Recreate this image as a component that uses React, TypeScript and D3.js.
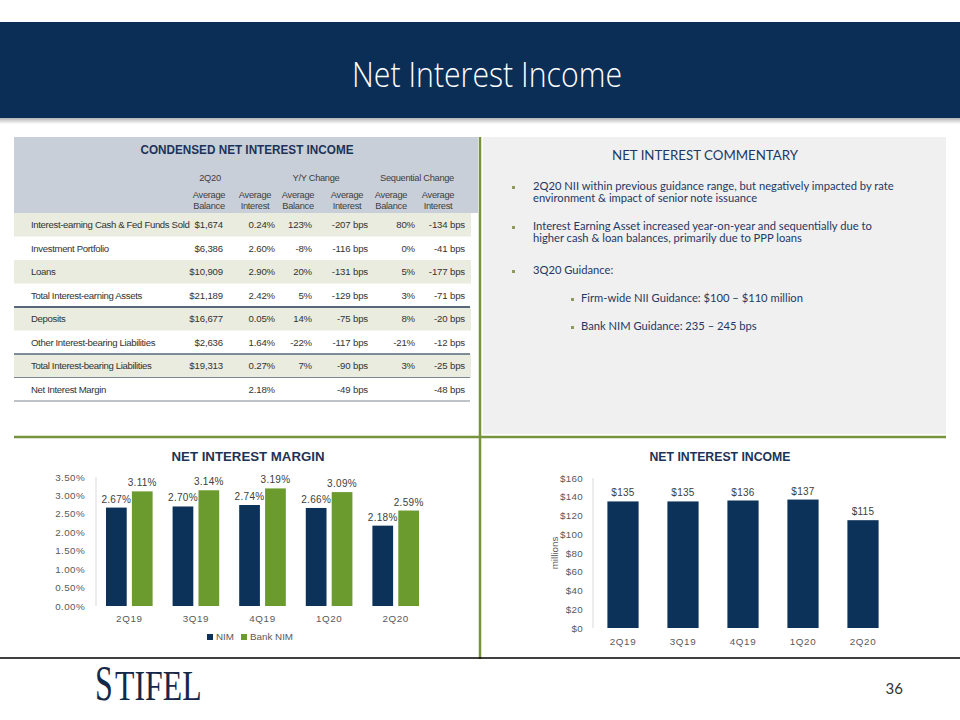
import React from "react";
import * as d3 from "d3";

const categories = ["2Q19", "3Q19", "4Q19", "1Q20", "2Q20"];
const nimValues = [2.67, 2.7, 2.74, 2.66, 2.18];
const bankNimValues = [3.11, 3.14, 3.19, 3.09, 2.59];
const niiValues = [135, 135, 136, 137, 115];
const nimTicks = [0, 0.5, 1, 1.5, 2, 2.5, 3, 3.5];
const niiTicks = [0, 20, 40, 60, 80, 100, 120, 140, 160];
const nimSeries = ["NIM", "Bank NIM"];

const tableGroups = ["2Q20", "Y/Y Change", "Sequential Change"];
const tableColHeads = [
  ["Average", "Balance"],
  ["Average", "Interest"],
  ["Average", "Balance"],
  ["Average", "Interest"],
  ["Average", "Balance"],
  ["Average", "Interest"],
];
const rowLabels = [
  "Interest-earning Cash & Fed Funds Sold",
  "Investment Portfolio",
  "Loans",
  "Total Interest-earning Assets",
  "Deposits",
  "Other Interest-bearing Liabilities",
  "Total Interest-bearing Liabilities",
  "Net Interest Margin",
];
const rowValues = [
  ["$1,674", "0.24%", "123%", "-207 bps", "80%", "-134 bps"],
  ["$6,386", "2.60%", "-8%", "-116 bps", "0%", "-41 bps"],
  ["$10,909", "2.90%", "20%", "-131 bps", "5%", "-177 bps"],
  ["$21,189", "2.42%", "5%", "-129 bps", "3%", "-71 bps"],
  ["$16,677", "0.05%", "14%", "-75 bps", "8%", "-20 bps"],
  ["$2,636", "1.64%", "-22%", "-117 bps", "-21%", "-12 bps"],
  ["$19,313", "0.27%", "7%", "-90 bps", "3%", "-25 bps"],
  ["", "2.18%", "", "-49 bps", "", "-48 bps"],
];

const bullets = [
  ["2Q20 NII within previous guidance range, but negatively impacted by rate", "environment & impact of senior note issuance"],
  ["Interest Earning Asset increased year-on-year and sequentially due to", "higher cash & loan balances, primarily due to PPP loans"],
  ["3Q20 Guidance:"],
];
const subBullets = ["Firm-wide NII Guidance: $100 \u2013 $110 million", "Bank NIM Guidance: 235 \u2013 245 bps"];

const NAVY = "#0d3259";
const GREEN = "#6b9a2e";
const OLIVE = "#77933c";
const TXT = "#404040";
const SANS = "'Liberation Sans', Arial, sans-serif";
const LATO = "Lato, 'Open Sans', sans-serif";

function NimChart() {
  const x0 = d3.scaleBand<string>().domain(categories).range([96, 429]).padding(0);
  const bw = x0.bandwidth();
  const x1 = d3.scaleBand<string>().domain(nimSeries).range([bw * 0.15, bw * 0.85]).paddingInner(0.2);
  const y = d3.scaleLinear().domain([0, 3.5]).range([606, 477]);
  const fmt = (v: number) => v.toFixed(2) + "%";
  const series = [nimValues, bankNimValues];
  const colors = [NAVY, GREEN];
  return (
    <g>
      <text x={248} y={461} textAnchor="middle" fontFamily={SANS} fontWeight="bold" fontSize={12.5} fill="#1c3357" textLength={153} lengthAdjust="spacingAndGlyphs">NET INTEREST MARGIN</text>
      <line x1={96} x2={96} y1={y(3.5)} y2={y(0)} stroke="#d9d9d9" />
      {nimTicks.map((t) => (
        <text key={t} x={85} y={y(t) + 3.5} textAnchor="end" fontFamily={SANS} fontSize={9.8} fill="#595959" letterSpacing={0.4}>{fmt(t)}</text>
      ))}
      {series.map((vals, si) =>
        vals.map((v, i) => {
          const bx = (x0(categories[i]) as number) + (x1(nimSeries[si]) as number);
          return (
            <g key={si + "-" + i}>
              <rect x={bx} y={y(v)} width={x1.bandwidth()} height={y(0) - y(v)} fill={colors[si]} />
              <text x={bx + x1.bandwidth() / 2} y={y(v) - 5} textAnchor="middle" fontFamily={SANS} fontSize={10} fill={TXT} letterSpacing={0.3}>{fmt(v)}</text>
            </g>
          );
        })
      )}
      {categories.map((c) => (
        <text key={c} x={(x0(c) as number) + bw / 2} y={622} textAnchor="middle" fontFamily={SANS} fontSize={9.8} fill="#595959" letterSpacing={0.6}>{c}</text>
      ))}
      <rect x={207} y={634} width={6} height={6} fill={NAVY} />
      <text x={216} y={640} fontFamily={SANS} fontSize={9.8} fill="#595959">NIM</text>
      <rect x={241} y={634} width={6} height={6} fill={GREEN} />
      <text x={250} y={640} fontFamily={SANS} fontSize={9.8} fill="#595959">Bank NIM</text>
    </g>
  );
}

function NiiChart() {
  const x = d3.scaleBand<string>().domain(categories).range([593, 893]).paddingInner(0.48).paddingOuter(0.24);
  const y = d3.scaleLinear().domain([0, 160]).range([628, 478]);
  return (
    <g>
      <text x={720} y={461} textAnchor="middle" fontFamily={SANS} fontWeight="bold" fontSize={12.5} fill="#1c3357" textLength={141} lengthAdjust="spacingAndGlyphs">NET INTEREST INCOME</text>
      <line x1={593} x2={593} y1={y(160)} y2={y(0)} stroke="#d9d9d9" />
      {niiTicks.map((t) => (
        <text key={t} x={583} y={y(t) + 3.5} textAnchor="end" fontFamily={SANS} fontSize={9.8} fill="#595959" letterSpacing={0.3}>{"$" + t}</text>
      ))}
      <text transform="translate(558,553) rotate(-90)" textAnchor="middle" fontFamily={SANS} fontSize={9.8} fill="#595959">millions</text>
      {niiValues.map((v, i) => {
        const bx = x(categories[i]) as number;
        return (
          <g key={i}>
            <rect x={bx} y={y(v)} width={x.bandwidth()} height={y(0) - y(v)} fill={NAVY} />
            <text x={bx + x.bandwidth() / 2} y={y(v) - 5} textAnchor="middle" fontFamily={SANS} fontSize={10} fill={TXT} letterSpacing={0.3}>{"$" + v}</text>
          </g>
        );
      })}
      {categories.map((c) => (
        <text key={c} x={(x(c) as number) + x.bandwidth() / 2} y={645} textAnchor="middle" fontFamily={SANS} fontSize={9.8} fill="#595959" letterSpacing={0.6}>{c}</text>
      ))}
    </g>
  );
}

function Table() {
  const colRight = [223, 275, 312, 368, 415, 465];
  const colCenter = [209, 255, 298, 347, 391, 438];
  const groupCenter = [210, 316, 417];
  const rowTop = 213;
  const rowH = 23.5;
  const greenRows = [0, 2, 4, 6];
  return (
    <g>
      <rect x={14} y={137} width={464} height={76} fill="#c9cfd8" />
      {greenRows.map((r) => (
        <rect key={r} x={14} y={rowTop + r * rowH} width={457} height={rowH} fill="#e9ecde" />
      ))}
      <text x={247} y={154} textAnchor="middle" fontFamily={SANS} fontWeight="bold" fontSize={12.5} fill="#1c3357" textLength={213} lengthAdjust="spacingAndGlyphs">CONDENSED NET INTEREST INCOME</text>
      {tableGroups.map((g, i) => (
        <text key={g} x={groupCenter[i]} y={181} textAnchor="middle" fontFamily={SANS} fontSize={9.3} fill="#404040" letterSpacing={-0.3}>{g}</text>
      ))}
      {tableColHeads.map((h, i) => (
        <g key={i}>
          <text x={colCenter[i]} y={198} textAnchor="middle" fontFamily={SANS} fontSize={9.3} fill="#404040" letterSpacing={-0.3}>{h[0]}</text>
          <text x={colCenter[i]} y={209} textAnchor="middle" fontFamily={SANS} fontSize={9.3} fill="#404040" letterSpacing={-0.3}>{h[1]}</text>
        </g>
      ))}
      {rowLabels.map((lab, r) => {
        const ty = rowTop + r * rowH + rowH / 2 + 3.5;
        return (
          <g key={lab}>
            <text x={31} y={ty} fontFamily={SANS} fontSize={9.6} fill="#333" letterSpacing={-0.35}>{lab}</text>
            {rowValues[r].map((v, c) => (
              <text key={c} x={colRight[c]} y={ty} textAnchor="end" fontFamily={SANS} fontSize={9.6} fill="#333" letterSpacing={-0.15}>{v}</text>
            ))}
          </g>
        );
      })}
      <line x1={14} x2={470} y1={rowTop + 4 * rowH} y2={rowTop + 4 * rowH} stroke="#56687a" strokeWidth={1.8} />
      <line x1={14} x2={470} y1={rowTop + 6 * rowH} y2={rowTop + 6 * rowH} stroke="#56687a" strokeWidth={1.5} />
      <line x1={14} x2={470} y1={rowTop + 7 * rowH} y2={rowTop + 7 * rowH} stroke="#7d8793" strokeWidth={1} />
      <line x1={14} x2={470} y1={rowTop + 8 * rowH} y2={rowTop + 8 * rowH} stroke="#7d8793" strokeWidth={1} />
    </g>
  );
}

function Commentary() {
  const lineYs = [[190, 202], [230, 242], [274]];
  const subYs = [302, 330];
  return (
    <g>
      <rect x={483} y={137} width={463} height={297} fill="#f0f0f0" />
      <text x={705} y={160} textAnchor="middle" fontFamily={LATO} fontSize={14} fill="#1f3864" textLength={186} lengthAdjust="spacingAndGlyphs">NET INTEREST COMMENTARY</text>
      {bullets.map((b, i) => (
        <g key={i}>
          <rect x={512} y={lineYs[i][0] - 4} width={3} height={3} fill="#8c9a62" />
          {b.map((ln, j) => (
            <text key={j} x={533} y={lineYs[i][j]} fontFamily={LATO} fontSize={11.2} fill="#1f3864">{ln}</text>
          ))}
        </g>
      ))}
      {subBullets.map((s, i) => (
        <g key={s}>
          <rect x={571} y={subYs[i] - 4} width={3} height={3} fill="#8c9a62" />
          <text x={581} y={subYs[i]} fontFamily={LATO} fontSize={11.2} fill="#1f3864">{s}</text>
        </g>
      ))}
    </g>
  );
}

export default function App() {
  const SERIF = "'Liberation Serif', 'DejaVu Serif', serif";
  return (
    <svg width={960} height={720} style={{ position: "absolute", left: 0, top: 0, background: "#fff" }}>
      <defs>
        <linearGradient id="shadow" x1="0" y1="0" x2="0" y2="1">
          <stop offset="0" stopColor="#000" stopOpacity={0.35} />
          <stop offset="1" stopColor="#000" stopOpacity={0} />
        </linearGradient>
      </defs>
      <rect x={0} y={0} width={960} height={720} fill="#fff" />
      <rect x={0} y={117} width={960} height={7} fill="url(#shadow)" />
      <rect x={0} y={22} width={960} height={96} fill="#0b2e57" />
      <text x={487} y={87} textAnchor="middle" fontFamily="'Open Sans', Lato, sans-serif" fontWeight={300} fontSize={34} fill="#fff" textLength={270} lengthAdjust="spacingAndGlyphs">Net Interest Income</text>

      <Table />
      <Commentary />

      <line x1={480} x2={480} y1={137} y2={659} stroke={OLIVE} strokeWidth={2.5} />
      <line x1={14} x2={946} y1={437} y2={437} stroke={OLIVE} strokeWidth={2.5} />

      <NimChart />
      <NiiChart />

      <line x1={0} x2={960} y1={658} y2={658} stroke="#000" strokeWidth={1.3} />

      <text transform="translate(95,700) scale(0.64,1)" fontFamily={SERIF} fontSize={50} fill="#14294a">S</text>
      <text transform="translate(115,700) scale(0.74,1)" fontFamily={SERIF} fontSize={43} fill="#14294a">TIFEL</text>
      <text x={903} y={694} textAnchor="end" fontFamily={LATO} fontSize={15} fill="#333">36</text>
    </svg>
  );
}
